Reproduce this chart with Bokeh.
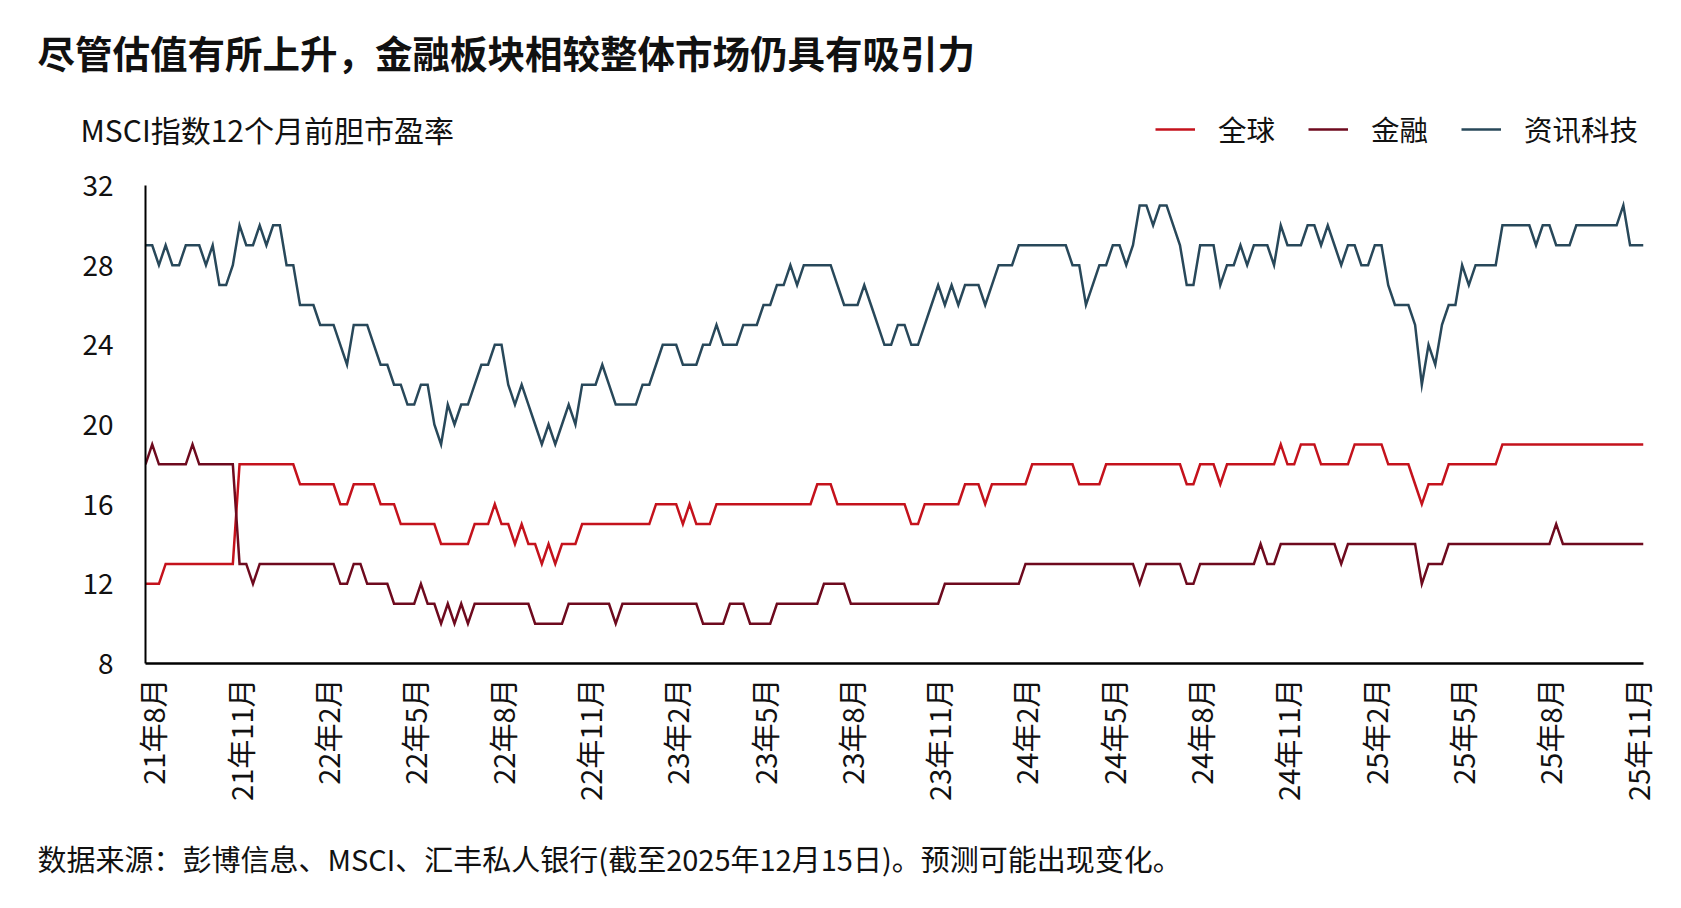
import math

from bokeh.embed import file_html
from bokeh.layouts import column
from bokeh.models import FixedTicker, Label, Legend, LegendItem, Range1d
from bokeh.plotting import figure
from bokeh.resources import INLINE

# Weekly MSCI 12-month forward P/E, Aug 2021 – Dec 2025
global_pe = [
    12, 12, 12, 13, 13, 13, 13, 13, 13, 13,
    13, 13, 13, 13, 18, 18, 18, 18, 18, 18,
    18, 18, 18, 17, 17, 17, 17, 17, 17, 16,
    16, 17, 17, 17, 17, 16, 16, 16, 15, 15,
    15, 15, 15, 15, 14, 14, 14, 14, 14, 15,
    15, 15, 16, 15, 15, 14, 15, 14, 14, 13,
    14, 13, 14, 14, 14, 15, 15, 15, 15, 15,
    15, 15, 15, 15, 15, 15, 16, 16, 16, 16,
    15, 16, 15, 15, 15, 16, 16, 16, 16, 16,
    16, 16, 16, 16, 16, 16, 16, 16, 16, 16,
    17, 17, 17, 16, 16, 16, 16, 16, 16, 16,
    16, 16, 16, 16, 15, 15, 16, 16, 16, 16,
    16, 16, 17, 17, 17, 16, 17, 17, 17, 17,
    17, 17, 18, 18, 18, 18, 18, 18, 18, 17,
    17, 17, 17, 18, 18, 18, 18, 18, 18, 18,
    18, 18, 18, 18, 18, 17, 17, 18, 18, 18,
    17, 18, 18, 18, 18, 18, 18, 18, 18, 19,
    18, 18, 19, 19, 19, 18, 18, 18, 18, 18,
    19, 19, 19, 19, 19, 18, 18, 18, 18, 17,
    16, 17, 17, 17, 18, 18, 18, 18, 18, 18,
    18, 18, 19, 19, 19, 19, 19, 19, 19, 19,
    19, 19, 19, 19, 19, 19, 19, 19, 19, 19,
    19, 19, 19, 19,
]

financials_pe = [
    18, 19, 18, 18, 18, 18, 18, 19, 18, 18,
    18, 18, 18, 18, 13, 13, 12, 13, 13, 13,
    13, 13, 13, 13, 13, 13, 13, 13, 13, 12,
    12, 13, 13, 12, 12, 12, 12, 11, 11, 11,
    11, 12, 11, 11, 10, 11, 10, 11, 10, 11,
    11, 11, 11, 11, 11, 11, 11, 11, 10, 10,
    10, 10, 10, 11, 11, 11, 11, 11, 11, 11,
    10, 11, 11, 11, 11, 11, 11, 11, 11, 11,
    11, 11, 11, 10, 10, 10, 10, 11, 11, 11,
    10, 10, 10, 10, 11, 11, 11, 11, 11, 11,
    11, 12, 12, 12, 12, 11, 11, 11, 11, 11,
    11, 11, 11, 11, 11, 11, 11, 11, 11, 12,
    12, 12, 12, 12, 12, 12, 12, 12, 12, 12,
    12, 13, 13, 13, 13, 13, 13, 13, 13, 13,
    13, 13, 13, 13, 13, 13, 13, 13, 12, 13,
    13, 13, 13, 13, 13, 12, 12, 13, 13, 13,
    13, 13, 13, 13, 13, 13, 14, 13, 13, 14,
    14, 14, 14, 14, 14, 14, 14, 14, 13, 14,
    14, 14, 14, 14, 14, 14, 14, 14, 14, 14,
    12, 13, 13, 13, 14, 14, 14, 14, 14, 14,
    14, 14, 14, 14, 14, 14, 14, 14, 14, 14,
    15, 14, 14, 14, 14, 14, 14, 14, 14, 14,
    14, 14, 14, 14,
]

tech_pe = [
    29, 29, 28, 29, 28, 28, 29, 29, 29, 28,
    29, 27, 27, 28, 30, 29, 29, 30, 29, 30,
    30, 28, 28, 26, 26, 26, 25, 25, 25, 24,
    23, 25, 25, 25, 24, 23, 23, 22, 22, 21,
    21, 22, 22, 20, 19, 21, 20, 21, 21, 22,
    23, 23, 24, 24, 22, 21, 22, 21, 20, 19,
    20, 19, 20, 21, 20, 22, 22, 22, 23, 22,
    21, 21, 21, 21, 22, 22, 23, 24, 24, 24,
    23, 23, 23, 24, 24, 25, 24, 24, 24, 25,
    25, 25, 26, 26, 27, 27, 28, 27, 28, 28,
    28, 28, 28, 27, 26, 26, 26, 27, 26, 25,
    24, 24, 25, 25, 24, 24, 25, 26, 27, 26,
    27, 26, 27, 27, 27, 26, 27, 28, 28, 28,
    29, 29, 29, 29, 29, 29, 29, 29, 28, 28,
    26, 27, 28, 28, 29, 29, 28, 29, 31, 31,
    30, 31, 31, 30, 29, 27, 27, 29, 29, 29,
    27, 28, 28, 29, 28, 29, 29, 29, 28, 30,
    29, 29, 29, 30, 30, 29, 30, 29, 28, 29,
    29, 28, 28, 29, 29, 27, 26, 26, 26, 25,
    22, 24, 23, 25, 26, 26, 28, 27, 28, 28,
    28, 28, 30, 30, 30, 30, 30, 29, 30, 30,
    29, 29, 29, 30, 30, 30, 30, 30, 30, 30,
    31, 29, 29, 29,
]

series_names = ["全球", "金融", "资讯科技"]
series_colors = ["#C4121C", "#6E0A1E", "#28485A"]

# x positions are week numbers; quarterly labels every 13 weeks
tick_weeks = [1, 14, 27, 40, 53, 66, 79, 92, 105, 118, 131, 144, 157, 170, 183, 196, 209, 222]
tick_labels = [
    "21年8月", "21年11月", "22年2月", "22年5月", "22年8月", "22年11月",
    "23年2月", "23年5月", "23年8月", "23年11月", "24年2月", "24年5月",
    "24年8月", "24年11月", "25年2月", "25年5月", "25年8月", "25年11月",
]
y_ticks = [8, 12, 16, 20, 24, 28, 32]

title_text = "尽管估值有所上升，金融板块相较整体市场仍具有吸引力"
subtitle_text = "MSCI指数12个月前胆市盈率"
source_text = "数据来源：彭博信息、MSCI、汇丰私人银行(截至2025年12月15日)。预测可能出现变化。"

FONT = "Noto Sans CJK SC"
TEXT_COLOR = "#111111"
W = 1681
HEADER_H, CHART_H, FOOTER_H = 165, 648, 95


def blank_panel(height):
    """A borderless, axis-free strip used for header and footer text."""
    f = figure(
        width=W, height=height, output_backend="svg", toolbar_location=None,
        x_axis_type=None, y_axis_type=None, min_border=0,
        x_range=Range1d(0, 1), y_range=Range1d(0, 1),
    )
    f.outline_line_color = None
    f.grid.visible = False
    f.frame_align = False
    return f


def text_label(text, x_px, y_from_bottom, size, bold=False):
    return Label(
        x=x_px, y=y_from_bottom, x_units="screen", y_units="screen",
        text=text, text_font=FONT, text_font_size=size,
        text_font_style="bold" if bold else "normal",
        text_baseline="middle", text_align="left", text_color=TEXT_COLOR,
    )


# ---- header: title, axis caption and legend ----
header = blank_panel(HEADER_H)
header.add_layout(text_label(title_text, 37, HEADER_H - 51, "37.5px", bold=True))
header.add_layout(text_label(subtitle_text, 80, HEADER_H - 128, "30px"))

# legend keys: one-point lines that only carry the series styling
legend_refs = [header.line([math.nan], [math.nan], line_color=c, line_width=2.5) for c in series_colors]
legend = Legend(
    items=[LegendItem(label=n, renderers=[r]) for n, r in zip(series_names, legend_refs)],
    orientation="horizontal",
    location=(1155, 16),
    glyph_width=40,
    glyph_height=30,
    label_height=30,
    label_standoff=23,
    spacing=33,
    padding=0,
    margin=0,
    border_line_color=None,
    background_fill_alpha=0,
    label_text_font=FONT,
    label_text_font_size="28.5px",
    label_text_color=TEXT_COLOR,
)
header.add_layout(legend)

# ---- main chart ----
weeks = list(range(len(tech_pe)))

p = figure(
    width=W, height=CHART_H, output_backend="svg", toolbar_location=None,
    x_range=Range1d(0, len(tech_pe) - 1), y_range=Range1d(8, 32),
    min_border_left=145, min_border_right=38,
    min_border_top=20, min_border_bottom=150,
)
p.outline_line_color = None
p.grid.visible = False
p.frame_align = False

p.yaxis.ticker = FixedTicker(ticks=y_ticks)
p.yaxis.axis_line_width = 2
p.yaxis.axis_line_color = "black"
p.yaxis.major_tick_in = 0
p.yaxis.major_tick_out = 0
p.yaxis.minor_tick_line_color = None
p.yaxis.major_label_standoff = 32
p.yaxis.major_label_text_font = FONT
p.yaxis.major_label_text_font_size = "28px"
p.yaxis.major_label_text_color = TEXT_COLOR

p.xaxis.ticker = FixedTicker(ticks=tick_weeks)
p.xaxis.major_label_overrides = dict(zip(tick_weeks, tick_labels))
p.xaxis.major_label_orientation = math.pi / 2
p.xaxis.axis_line_width = 2.5
p.xaxis.axis_line_color = "black"
p.xaxis.major_tick_in = 0
p.xaxis.major_tick_out = 0
p.xaxis.minor_tick_line_color = None
p.xaxis.major_label_standoff = 15
p.xaxis.major_label_text_font = FONT
p.xaxis.major_label_text_font_size = "29px"
p.xaxis.major_label_text_color = TEXT_COLOR

for values, color in zip([global_pe, financials_pe, tech_pe], series_colors):
    p.line(weeks, values, line_color=color, line_width=2.5, line_join="miter")

# ---- footer: source note ----
footer = blank_panel(FOOTER_H)
footer.add_layout(text_label(source_text, 37, FOOTER_H - 44, "29px"))

layout = column(header, p, footer, spacing=0)
open("out.html", "w").write(file_html(layout, INLINE))
